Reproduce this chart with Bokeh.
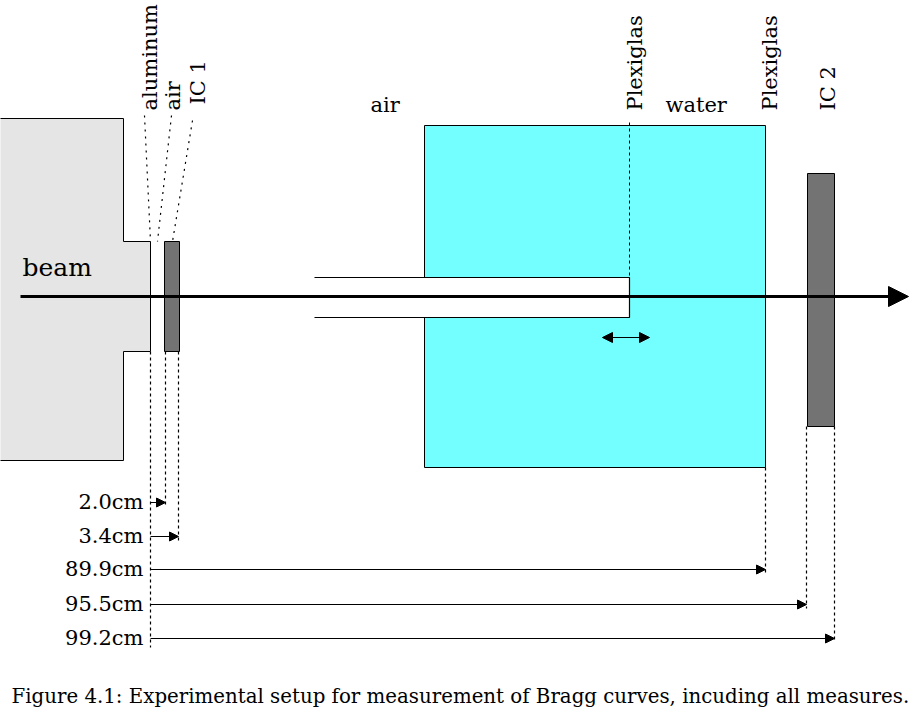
import numpy as np
from bokeh.plotting import figure
from bokeh.models import Range1d, Arrow, NormalHead, ColumnDataSource
from bokeh.core.properties import value
from bokeh.embed import file_html
from bokeh.resources import INLINE

# diagram drawn in page pixels (x right, y down)
FONT = "DejaVu Serif"

# beam nozzle outline (gray block with step)
nozzle_x = [-2, 123, 123, 150, 150, 123, 123, -2]
nozzle_y = [118, 118, 241, 241, 351, 351, 460, 460]

# ionisation chambers: left, right, top, bottom
ic_left = [164, 807]
ic_right = [179, 834]
ic_top = [241, 173]
ic_bottom = [351, 426]

# water phantom and plexiglas tube
water_box = dict(left=424, right=765, top=125, bottom=467)
tube = dict(left=314, right=629, top=277, bottom=317)

beam_y = 296
beam_x = [20, 908]

# rotated labels on top: text, baseline x, start y
top_labels = ["aluminum", "air", "IC 1", "Plexiglas", "Plexiglas", "IC 2"]
top_label_x = [157, 180, 205, 642, 777, 835]
top_label_y = [110, 110, 104, 110, 110, 110]

# leader lines from the labels to the parts
lead_x0 = [144, 171, 192]
lead_y0 = [115, 115, 120]
lead_x1 = [150, 157, 172]
lead_y1 = [241, 241, 241]

# measures from aluminium exit window
measure_labels = ["2.0cm", "3.4cm", "89.9cm", "95.5cm", "99.2cm"]
measure_start = 150
measure_end = [165, 178, 765, 806, 834]
measure_row = [502, 536, 569, 604, 638]
measure_top = [351, 351, 467, 426, 426]

caption = "Figure 4.1: Experimental setup for measurement of Bragg curves, incuding all measures."


def lift(fs):
    # svg text sits a bit low, pull it back to the wanted baseline
    return 0.38 * fs


p = figure(width=910, height=712, output_backend="svg", toolbar_location=None,
           x_range=Range1d(0, 910), y_range=Range1d(712, 0), min_border=0)
p.axis.visible = False
p.grid.visible = False
p.outline_line_color = None
p.background_fill_color = "white"

# nozzle
p.patch(nozzle_x, nozzle_y, fill_color="#e5e5e5", line_color="black", line_width=1)

# water
p.quad(left=[water_box["left"]], right=[water_box["right"]], top=[water_box["top"]],
       bottom=[water_box["bottom"]], fill_color="#73ffff", line_color="black", line_width=1)

# tube (open on the left)
p.quad(left=[tube["left"]], right=[tube["right"]], top=[tube["top"]], bottom=[tube["bottom"]],
       fill_color="white", line_color=None)
p.multi_line(xs=[[tube["left"], tube["right"], tube["right"], tube["left"]]],
             ys=[[tube["top"], tube["top"], tube["bottom"], tube["bottom"]]],
             line_color="black", line_width=1.2)
p.segment(x0=[tube["right"]], y0=[water_box["top"] - 3], x1=[tube["right"]], y1=[tube["top"]],
          line_color="black", line_dash="3 3", line_width=1)

# chambers
p.quad(left=ic_left, right=ic_right, top=ic_top, bottom=ic_bottom,
       fill_color="#737373", line_color="black", line_width=1)

# leader lines
p.segment(x0=lead_x0, y0=lead_y0, x1=lead_x1, y1=lead_y1, line_color="black",
          line_dash="2 5", line_width=1.2)

# dashed drop lines
p.segment(x0=[measure_start] + measure_end, y0=[351] + measure_top,
          x1=[measure_start] + measure_end, y1=[647] + [r + 4 for r in measure_row],
          line_color="black", line_dash="3 3", line_width=1.2)

# measure arrows
msrc = ColumnDataSource(dict(x0=[measure_start] * len(measure_end), x1=measure_end, y=measure_row))
p.add_layout(Arrow(end=NormalHead(size=9, fill_color="black", line_width=1),
                   x_start="x0", y_start="y", x_end="x1", y_end="y", source=msrc,
                   line_width=1.2, line_color="black"))
p.text(x=[143] * len(measure_labels), y=[r + 7 - lift(21) for r in measure_row],
       text=measure_labels, text_align="right", text_baseline="alphabetic",
       text_font=value(FONT), text_font_size="21px", text_color="black")

# movement arrow of the tube
p.add_layout(Arrow(start=NormalHead(size=10, fill_color="black", line_width=1),
                   end=NormalHead(size=10, fill_color="black", line_width=1),
                   x_start=602, y_start=337, x_end=649, y_end=337,
                   line_width=1.2, line_color="black"))

# beam
p.add_layout(Arrow(end=NormalHead(size=20, fill_color="black", line_width=1),
                   x_start=beam_x[0], y_start=beam_y, x_end=beam_x[1], y_end=beam_y,
                   line_width=3, line_color="black"))

# labels
p.text(x=[x - lift(21) for x in top_label_x], y=top_label_y, text=top_labels, angle=np.pi / 2,
       text_align="left", text_baseline="alphabetic", text_font=value(FONT),
       text_font_size="21px", text_color="black")
p.text(x=[370, 665], y=[112 - lift(21)] * 2, text=["air", "water"], text_align="left",
       text_baseline="alphabetic", text_font=value(FONT), text_font_size="21px",
       text_color="black")
p.text(x=[22], y=[276 - lift(25)], text=["beam"], text_align="left", text_baseline="alphabetic",
       text_font=value(FONT), text_font_size="25px", text_color="black")
p.text(x=[11], y=[704 - lift(19.8)], text=[caption], text_align="left",
       text_baseline="alphabetic", text_font=value(FONT), text_font_size="19.8px",
       text_color="black")

open("out.html", "w").write(file_html(p, INLINE))
